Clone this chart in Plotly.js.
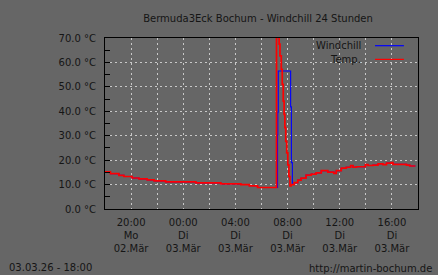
<!DOCTYPE html>
<html>
<head>
<meta charset="utf-8">
<script src="https://cdn.plot.ly/plotly-3.0.1.min.js"></script>
<style>html,body{margin:0;padding:0;background:#666666;}#chart{width:438px;height:275px;}</style>
</head>
<body>
<div id="chart"></div>
<script>
// ---- data ----
const preTimes = ['2026-03-02 18:00','2026-03-02 18:25','2026-03-02 19:04','2026-03-02 19:27','2026-03-02 20:05','2026-03-02 20:36','2026-03-02 21:14','2026-03-02 21:46','2026-03-02 22:39','2026-03-03 00:58','2026-03-03 02:53','2026-03-03 04:25','2026-03-03 05:04','2026-03-03 05:42'];
const preTemp = [15.2,14.5,13.8,13.3,12.7,12.3,11.9,11.5,11.1,10.7,10.3,10.0,9.5,8.8];

const spikeTimes = ['2026-03-03 07:09','2026-03-03 07:21','2026-03-03 07:25','2026-03-03 07:31','2026-03-03 07:35:30','2026-03-03 07:40','2026-03-03 07:44','2026-03-03 07:47:30','2026-03-03 07:51:30','2026-03-03 07:56','2026-03-03 08:01','2026-03-03 08:06','2026-03-03 08:11'];
const spikeTemp = [75,67.5,62.7,57.2,51,44.2,38.7,33.3,27.7,23,18.1,13.3,9.5];

const chillSpikeTimes = ['2026-03-03 07:13:50','2026-03-03 07:15','2026-03-03 07:17','2026-03-03 08:14','2026-03-03 08:17:30','2026-03-03 08:22'];
const chillSpikeValues = [30.4,39.6,56.5,41.8,19.0,10.0];

const postTimes = ['2026-03-03 08:16','2026-03-03 08:31','2026-03-03 08:47','2026-03-03 09:02','2026-03-03 09:25','2026-03-03 09:49','2026-03-03 10:11','2026-03-03 10:35','2026-03-03 11:05','2026-03-03 11:33','2026-03-03 11:44','2026-03-03 12:07','2026-03-03 12:30','2026-03-03 12:50','2026-03-03 13:01','2026-03-03 13:16','2026-03-03 13:58','2026-03-03 14:10','2026-03-03 14:33','2026-03-03 14:56','2026-03-03 15:19','2026-03-03 15:35','2026-03-03 15:58','2026-03-03 16:05','2026-03-03 17:07','2026-03-03 17:22','2026-03-03 17:48'];
const postTemp = [10.0,10.8,11.8,12.6,13.9,14.3,14.8,15.7,15.1,14.6,15.7,16.7,17.1,17.8,17.1,17.3,18.2,17.8,18.0,18.5,18.2,18.8,19.0,18.3,18.0,17.6,17.6];

const tickVals = ['2026-03-02 20:00','2026-03-02 22:00','2026-03-03 00:00','2026-03-03 02:00','2026-03-03 04:00','2026-03-03 06:00','2026-03-03 08:00','2026-03-03 10:00','2026-03-03 12:00','2026-03-03 14:00','2026-03-03 16:00'];
const tickText = ['20:00<br>Mo<br>02.Mär','','00:00<br>Di<br>03.Mär','','04:00<br>Di<br>03.Mär','','08:00<br>Di<br>03.Mär','','12:00<br>Di<br>03.Mär','','16:00<br>Di<br>03.Mär'];

const seriesNames = ['Windchill','Temp.'];

// ---- build series ----
const tempX = preTimes.concat(spikeTimes, postTimes);
const tempY = preTemp.concat(spikeTemp, postTemp);
const chillX = preTimes.concat(['2026-03-03 07:08'], chillSpikeTimes, postTimes.slice(1));
const chillY = preTemp.concat([8.8], chillSpikeValues, postTemp.slice(1));

const txt = '#151515';
const F = 'DejaVu Sans, Verdana, sans-serif';

const traces = [
  {x: chillX, y: chillY, type: 'scatter', mode: 'lines', name: seriesNames[0],
   line: {color: '#0000ff', width: 1.1, shape: 'hv'}, hoverinfo: 'skip'},
  {x: tempX, y: tempY, type: 'scatter', mode: 'lines', name: seriesNames[1],
   line: {color: '#ff0000', width: 1.7, shape: 'hv'}, hoverinfo: 'skip'}
];

const layout = {
  width: 438, height: 275,
  paper_bgcolor: '#666666', plot_bgcolor: '#666666',
  margin: {l: 105, r: 20, t: 38, b: 66, pad: 0},
  showlegend: false,
  font: {family: F, size: 10, color: txt},
  title: {text: 'Bermuda3Eck Bochum - Windchill 24 Stunden', font: {family: F, size: 10, color: txt},
          xref: 'container', yref: 'container', x: 258/438, xanchor: 'center', y: 1 - 18/275, yanchor: 'middle'},
  xaxis: {
    type: 'date', range: ['2026-03-02 18:00', '2026-03-03 18:00'],
    tickmode: 'array', tickvals: tickVals, ticktext: tickText,
    showgrid: true, gridcolor: '#c8c8c8', griddash: '2px,3px', gridwidth: 1,
    showline: true, linecolor: '#000000', linewidth: 1, mirror: true,
    ticks: '', zeroline: false, tickangle: 0,
    tickfont: {family: F, size: 10, color: txt}, ticklabelstandoff: 4
  },
  yaxis: {
    range: [0, 70], tickmode: 'linear', tick0: 0, dtick: 10,
    tickformat: '.1f', ticksuffix: ' °C',
    showgrid: true, gridcolor: '#c8c8c8', griddash: '2px,3px', gridwidth: 1,
    showline: true, linecolor: '#000000', linewidth: 1, mirror: true,
    ticks: 'inside', ticklen: 5, tickcolor: '#000000', tickwidth: 1,
    minor: {dtick: 5, ticks: 'inside', ticklen: 5, tickcolor: '#000000', showgrid: false},
    zeroline: false,
    tickfont: {family: F, size: 10, color: txt}, ticklabelstandoff: 6
  },
  annotations: [
    {text: seriesNames[0], xref: 'paper', yref: 'paper', x: 0.825, y: 0.955, xanchor: 'right', yanchor: 'middle', showarrow: false, font: {family: F, size: 10, color: txt}},
    {text: seriesNames[1], xref: 'paper', yref: 'paper', x: 0.825, y: 0.875, xanchor: 'right', yanchor: 'middle', showarrow: false, font: {family: F, size: 10, color: txt}},
    {text: '03.03.26 - 18:00', xref: 'paper', yref: 'paper', x: (7-105)/313, y: (209-267.5)/171, xanchor: 'left', yanchor: 'middle', showarrow: false, font: {family: F, size: 10, color: txt}},
    {text: 'http://martin-bochum.de', xref: 'paper', yref: 'paper', x: (434-105)/313, y: (209-268)/171, xanchor: 'right', yanchor: 'middle', showarrow: false, font: {family: F, size: 10, color: txt}}
  ],
  shapes: [
    {type: 'line', xref: 'paper', yref: 'paper', x0: 0.8626, x1: 0.955, y0: 0.955, y1: 0.955, line: {color: '#0000ff', width: 1.2}},
    {type: 'line', xref: 'paper', yref: 'paper', x0: 0.8626, x1: 0.955, y0: 0.875, y1: 0.875, line: {color: '#ff0000', width: 1.2}}
  ]
};

Plotly.newPlot('chart', traces, layout, {staticPlot: true, displayModeBar: false});
</script>
</body>
</html>
